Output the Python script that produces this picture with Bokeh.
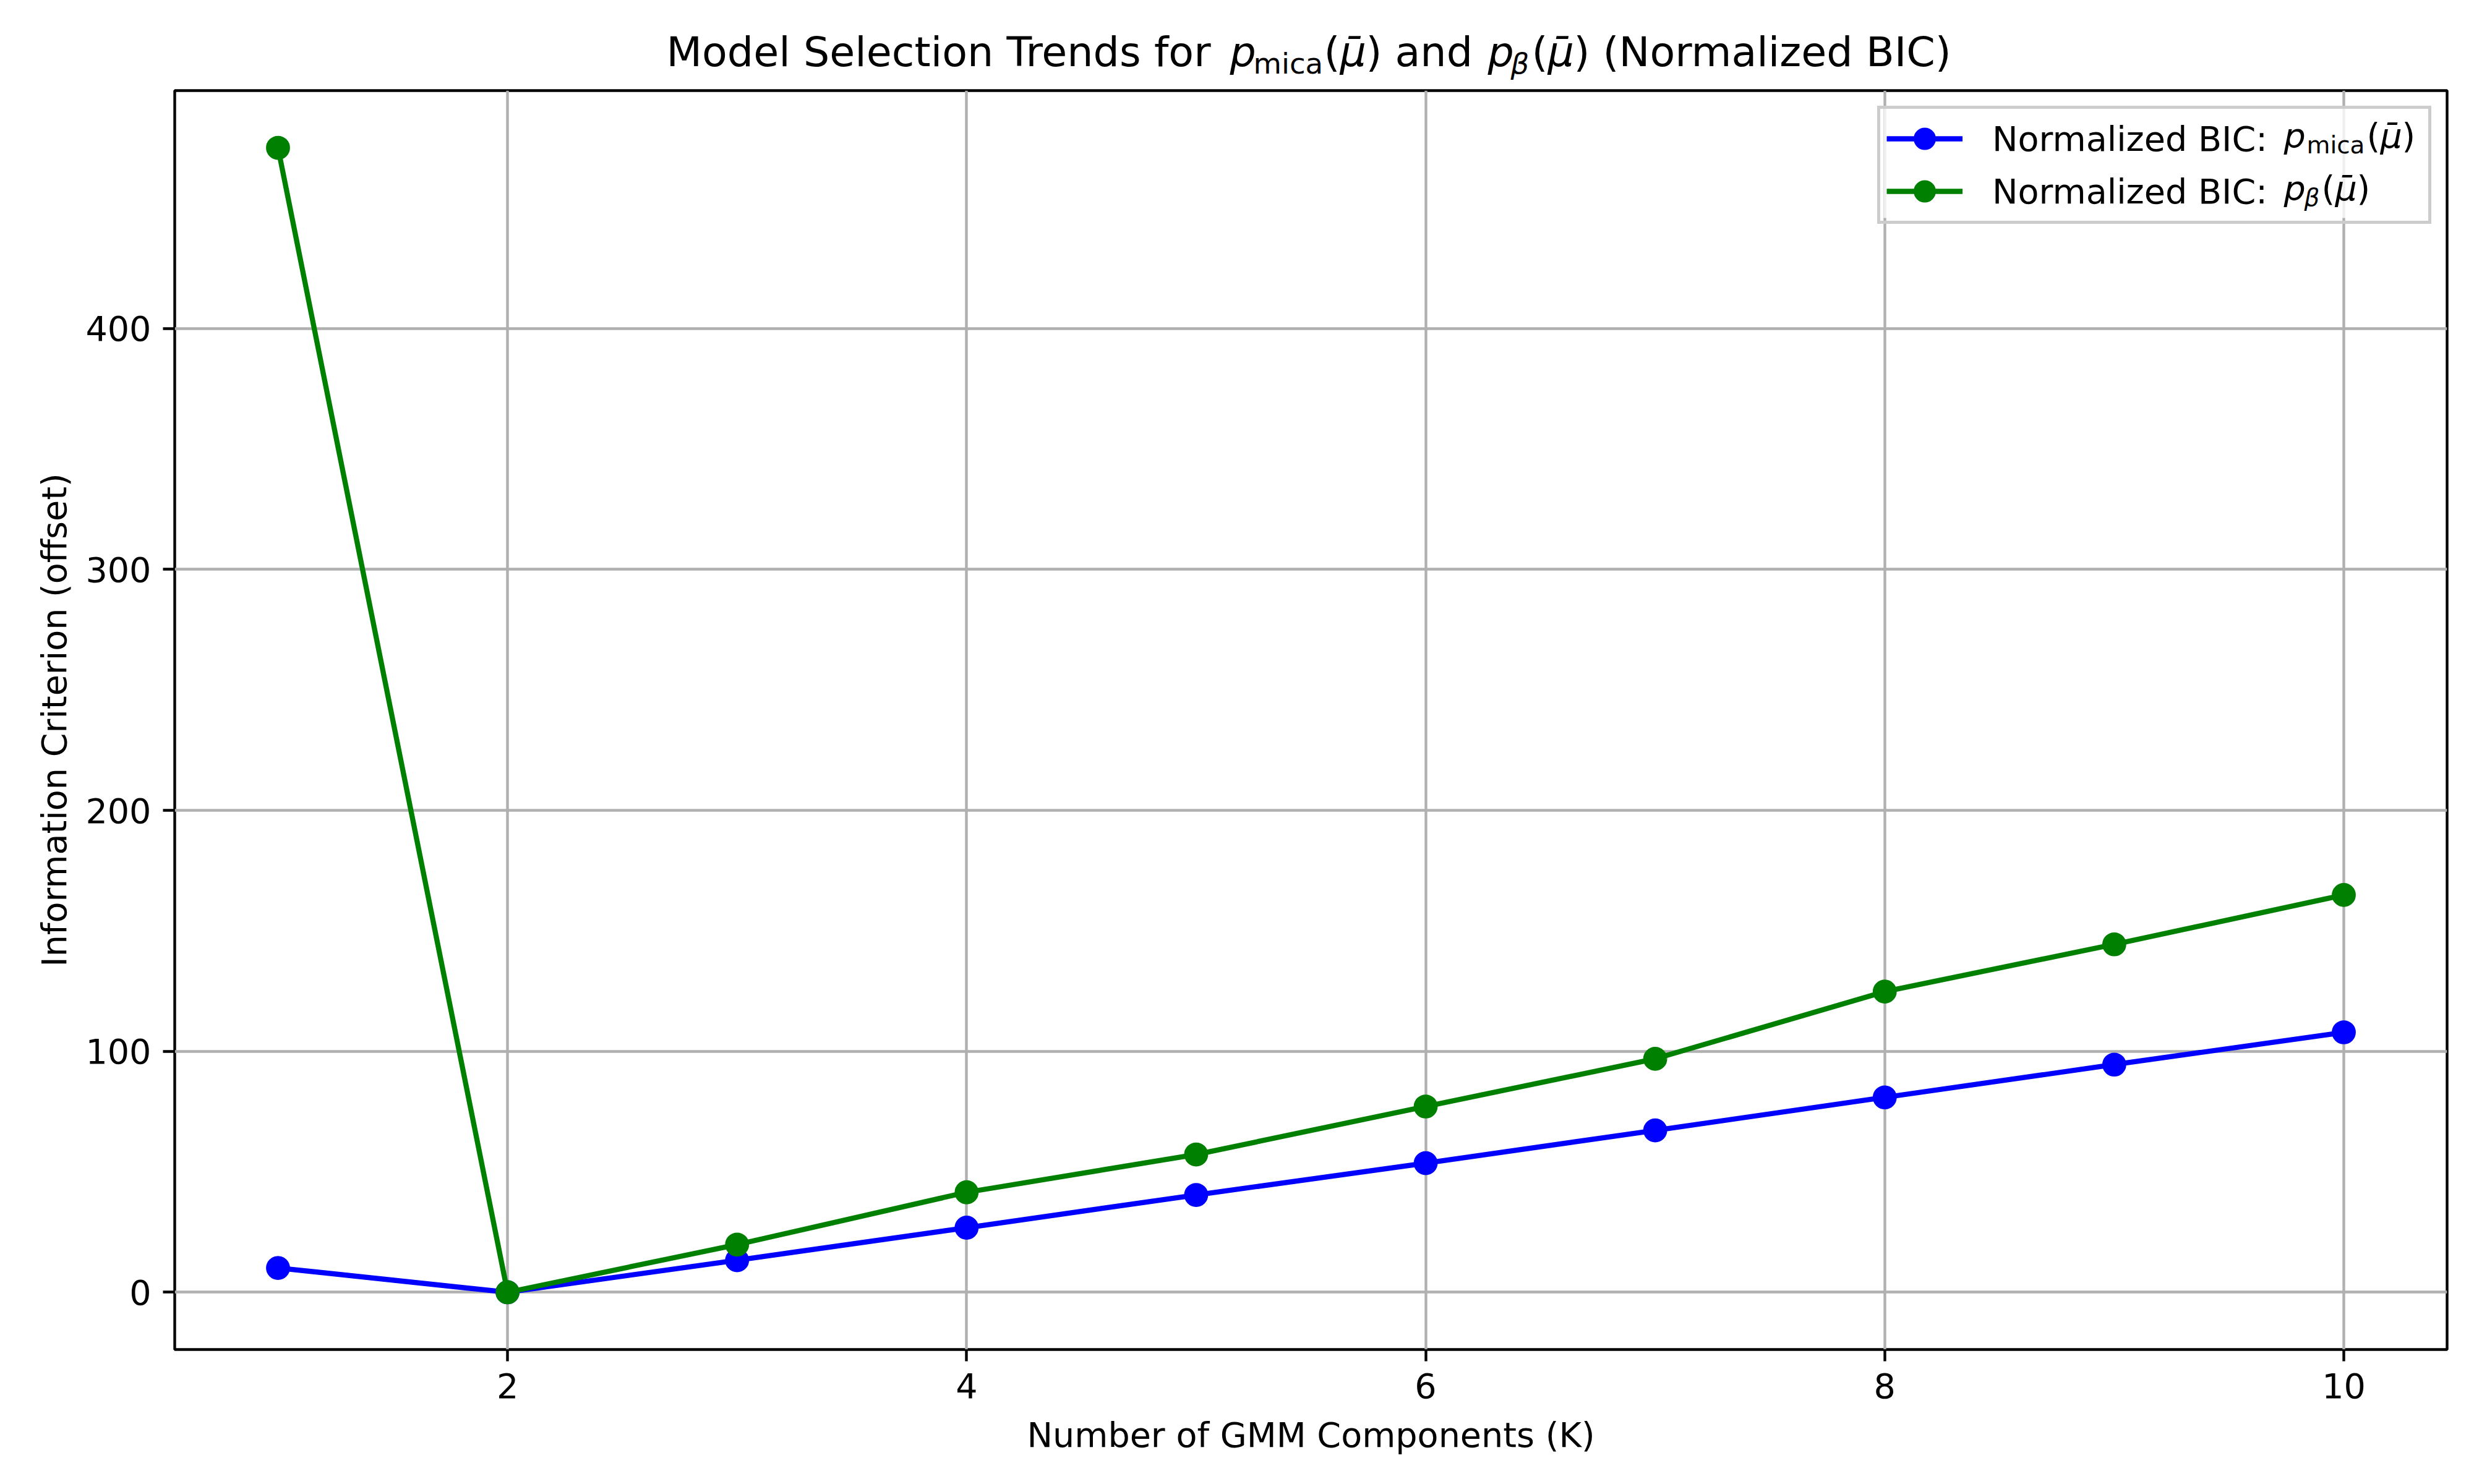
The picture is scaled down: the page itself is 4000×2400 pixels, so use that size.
from bokeh.plotting import figure
from bokeh.layouts import column
from bokeh.models import Range1d, FixedTicker, Label, Legend, LegendItem, BoxAnnotation
from bokeh.embed import file_html
from bokeh.resources import INLINE

# ---------------- data ----------------
components = [1, 2, 3, 4, 5, 6, 7, 8, 9, 10]
bic_mica = [10.1, 0.0, 13.3, 26.8, 40.4, 53.6, 67.2, 80.9, 94.5, 107.9]
bic_beta = [475.0, 0.0, 19.8, 41.5, 57.2, 77.1, 96.9, 124.8, 144.4, 164.9]
x_ticks = [2, 4, 6, 8, 10]
y_ticks = [0, 100, 200, 300, 400]

x_label = "Number of GMM Components (K)"
y_label = "Information Criterion (offset)"
legend_prefix = "Normalized BIC:"

FONT = "DejaVu Sans"
FS = "55.6px"
MID = 0.42          # baseline offset of a "middle"-anchored text, in em

W = 3996
TITLE_H = 140
MAIN_H = 2256
LEFT_B = 282
RIGHT_B = W - 3956
FRAME_W = 3674
FRAME_H = 2036

# frame placement (page pixels)
FRAME_LEFT = LEFT_B
FRAME_BOTTOM = 2182
FRAME_TOP = FRAME_BOTTOM - FRAME_H
FRAME_RIGHT = FRAME_LEFT + FRAME_W

# ---------------- title strip ----------------
tf = figure(
    width=W, height=TITLE_H, x_range=Range1d(0, 1), y_range=Range1d(0, 1),
    x_axis_type=None, y_axis_type=None, output_backend="svg",
    toolbar_location=None, tools="",
    min_border_left=LEFT_B, min_border_right=RIGHT_B,
    min_border_top=0, min_border_bottom=0,
    background_fill_color="white", border_fill_color="white",
)
tf.outline_line_color = None
tf.grid.visible = False


def tpiece(text, px, baseline, size_px, style="normal"):
    cy = baseline - MID * size_px
    tf.add_layout(Label(
        x=px - LEFT_B, y=TITLE_H - cy, x_units="screen", y_units="screen",
        text=text, text_font=FONT, text_font_size=f"{size_px}px",
        text_font_style=style, text_color="black",
        text_align="left", text_baseline="middle",
    ))


T, TS = 66.7, 46.7
tb, ts = 112, 122
tpiece("Model Selection Trends for", 1077, tb, T)
tpiece("p", 1988, tb, T, "italic")
tpiece("mica", 2026, ts, TS)
tpiece("(", 2140, tb, T)
tpiece("\u03bc\u0304", 2166, tb, T, "italic")
tpiece(")", 2208, tb, T)
tpiece("and", 2255, tb, T)
tpiece("p", 2405, tb, T, "italic")
tpiece("\u03b2", 2442, ts, TS, "italic")
tpiece("(", 2476, tb, T)
tpiece("\u03bc\u0304", 2502, tb, T, "italic")
tpiece(")", 2544, tb, T)
tpiece("(Normalized BIC)", 2591, tb, T)

# ---------------- main plot ----------------
p = figure(
    width=W, height=MAIN_H,
    x_range=Range1d(0.55, 10.45), y_range=Range1d(-23.75, 498.75),
    output_backend="svg", toolbar_location=None, tools="",
    min_border_left=LEFT_B, min_border_right=RIGHT_B, min_border_top=6,
    min_border_bottom=MAIN_H - 6 - FRAME_H,
    background_fill_color="white", border_fill_color="white",
)

p.outline_line_color = "black"
p.outline_line_width = 4.4
p.outline_line_alpha = 1.0

p.xaxis.ticker = FixedTicker(ticks=x_ticks)
p.yaxis.ticker = FixedTicker(ticks=y_ticks)
p.xaxis.axis_label = x_label
p.yaxis.axis_label = y_label

for ax in (p.xaxis[0], p.yaxis[0]):
    ax.axis_line_color = None
    ax.major_tick_line_color = "black"
    ax.major_tick_line_width = 4.4
    ax.major_tick_out = 19
    ax.major_tick_in = 0
    ax.minor_tick_line_color = None
    ax.major_label_text_font = FONT
    ax.major_label_text_font_size = FS
    ax.major_label_text_color = "black"
    ax.major_label_standoff = 19
    ax.axis_label_text_font = FONT
    ax.axis_label_text_font_size = FS
    ax.axis_label_text_font_style = "normal"
    ax.axis_label_text_color = "black"
p.yaxis.axis_label_standoff = 15
p.xaxis.axis_label_standoff = 24

for g in (p.xgrid[0], p.ygrid[0]):
    g.grid_line_color = "#b0b0b0"
    g.grid_line_width = 4.4

lb = p.line(components, bic_mica, line_color="blue", line_width=8.33)
sb = p.scatter(components, bic_mica, marker="circle", size=33.3,
               fill_color="blue", line_color="blue", line_width=5.5)
lg = p.line(components, bic_beta, line_color="green", line_width=8.33)
sg = p.scatter(components, bic_beta, marker="circle", size=33.3,
               fill_color="green", line_color="green", line_width=5.5)

# ---------------- legend ----------------
LEG_MARGIN, LEG_PAD, ROW_H, ROW_GAP = 25, 10, 76, 9
GLYPH_W, STANDOFF, LABEL_W = 123, 48, 695
leg_w = 2 * LEG_PAD + GLYPH_W + STANDOFF + LABEL_W
leg_h = 2 * LEG_PAD + 2 * ROW_H + ROW_GAP
leg_right = FRAME_RIGHT - LEG_MARGIN
leg_left = leg_right - leg_w
leg_top = FRAME_TOP + LEG_MARGIN
leg_bottom = leg_top + leg_h

# semi-transparent legend face (drawn beneath the legend text fragments)
p.add_layout(BoxAnnotation(
    left=leg_left - FRAME_LEFT, right=leg_right - FRAME_LEFT,
    top=FRAME_BOTTOM - leg_top, bottom=FRAME_BOTTOM - leg_bottom,
    left_units="screen", right_units="screen", top_units="screen", bottom_units="screen",
    fill_color="white", fill_alpha=0.8, line_color=None,
))

legend = Legend(
    items=[LegendItem(label=legend_prefix, renderers=[lb, sb]),
           LegendItem(label=legend_prefix, renderers=[lg, sg])],
    location="top_right",
    label_text_font=FONT, label_text_font_size=FS, label_text_color="black",
    border_line_color="#cccccc", border_line_width=5, border_line_alpha=1.0,
    background_fill_alpha=0.0,
    padding=LEG_PAD, spacing=ROW_GAP, margin=LEG_MARGIN,
    glyph_width=GLYPH_W, glyph_height=ROW_H, label_height=ROW_H, label_width=LABEL_W,
    label_standoff=STANDOFF,
)
p.add_layout(legend)


def lpiece(text, px, cy, size_px, style="normal"):
    """Legend math fragment, vertically centred at page y = cy."""
    p.add_layout(Label(
        x=px - FRAME_LEFT, y=FRAME_BOTTOM - cy, x_units="screen", y_units="screen",
        text=text, text_font=FONT, text_font_size=f"{size_px}px",
        text_font_style=style, text_color="black",
        text_align="left", text_baseline="middle", level="overlay",
    ))


L, LS = 55.6, 38.9
c1 = leg_top + LEG_PAD + ROW_H / 2
c2 = c1 + ROW_H + ROW_GAP
sub = MID * (L - LS) + 8
lpiece("p", 3692, c1, L, "italic")
lpiece("mica", 3729, c1 + sub, LS)
lpiece("(", 3826, c1, L)
lpiece("\u03bc\u0304", 3848, c1, L, "italic")
lpiece(")", 3883, c1, L)
lpiece("p", 3692, c2, L, "italic")
lpiece("\u03b2", 3725, c2 + sub, LS, "italic")
lpiece("(", 3753, c2, L)
lpiece("\u03bc\u0304", 3775, c2, L, "italic")
lpiece(")", 3810, c2, L)

layout = column(tf, p, spacing=0)
open("out.html", "w").write(file_html(layout, INLINE))
